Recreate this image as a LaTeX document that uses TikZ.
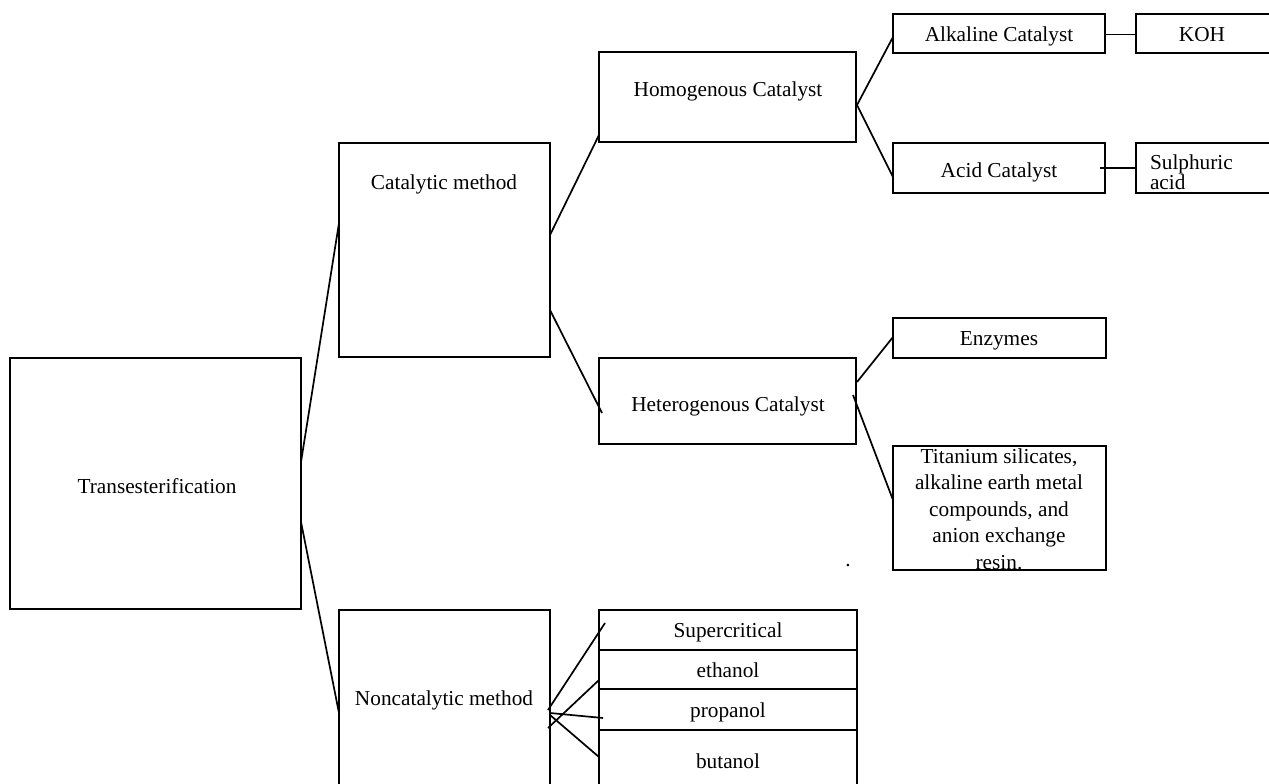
\documentclass[tikz,border=0pt]{standalone}
\usepackage{fontspec}
\setmainfont{Liberation Serif}
\begin{document}
\begin{tikzpicture}[x=1pt,y=-1pt,
  box/.style={draw=black, line width=1.8pt, inner sep=0pt, outer sep=0pt, anchor=north west},
  lbl/.style={inner sep=0pt, outer sep=0pt, anchor=base, font=\fontsize{21.3}{26}\selectfont},
  conn/.style={draw=black, line width=1.7pt}]
\useasboundingbox (0,0) rectangle (1269,784);
% boxes
\node[box, minimum width=291, minimum height=251] (trans) at (10,358) {};
\node[box, minimum width=211, minimum height=214] (cat) at (339,143) {};
\node[box, minimum width=211, minimum height=180] (noncat) at (339,610) {};
\node[box, minimum width=257, minimum height=90] (homo) at (599,52) {};
\node[box, minimum width=257, minimum height=86] (hetero) at (599,358) {};
\node[box, minimum width=212, minimum height=39] (alk) at (893,14) {};
\node[box, minimum width=136, minimum height=39] (koh) at (1136,14) {};
\node[box, minimum width=212, minimum height=50] (acid) at (893,143) {};
\node[box, minimum width=136, minimum height=50] (sulph) at (1136,143) {};
\node[box, minimum width=213, minimum height=40] (enz) at (893,318) {};
\node[box, minimum width=213, minimum height=124] (tit) at (893,446) {};
\node[box, minimum width=258, minimum height=40] (super) at (599,610) {};
\node[box, minimum width=258, minimum height=39] (eth) at (599,650) {};
\node[box, minimum width=258, minimum height=41] (prop) at (599,689) {};
\node[box, minimum width=258, minimum height=60] (but) at (599,730) {};
% texts
\node[lbl] (transT) at (157,493) {Transesterification};
\node[lbl] (catT) at (444,189) {Catalytic method};
\node[lbl] (noncatT) at (444,705) {Noncatalytic method};
\node[lbl] (homoT) at (728,96) {Homogenous Catalyst};
\node[lbl] (heteroT) at (728,411) {Heterogenous Catalyst};
\node[lbl] (alkT) at (999,42) {Alkaline Catalyst};
\node[lbl] (kohT) at (1202,42) {KOH};
\node[lbl] (acidT) at (999,177) {Acid Catalyst};
\node[lbl, anchor=west, align=left, font=\fontsize{21.3}{18}\selectfont] (sulphT) at (1150,172) {Sulphuric\\acid};
\node[lbl] (enzT) at (999,345) {Enzymes};
\node[lbl, anchor=center, align=center, font=\fontsize{21.3}{26.5}\selectfont] (titT) at (999,509) {Titanium silicates,\\alkaline earth metal\\compounds, and\\anion exchange\\resin.};
\node[lbl] (superT) at (728,637) {Supercritical};
\node[lbl] (ethT) at (728,677) {ethanol};
\node[lbl] (propT) at (728,717) {propanol};
\node[lbl] (butT) at (728,768) {butanol};
\node[lbl] (dot) at (848,566) {.};
% connectors
\draw[conn] ([yshift=21.5pt]trans.east) -- ([yshift=27pt]cat.west);
\draw[conn] ([yshift=-38.5pt]trans.east) -- ([yshift=-13pt]noncat.west);
\draw[conn] ([yshift=15pt]cat.east) -- ([yshift=-38pt]homo.west);
\draw[conn] ([yshift=-60pt]cat.east) -- ([xshift=3pt,yshift=-12pt]hetero.west);
\draw[conn] ([xshift=1pt,yshift=-8pt]homo.east) -- ([yshift=-3.5pt]alk.west);
\draw[conn] ([xshift=1pt,yshift=-8pt]homo.east) -- ([yshift=-9pt]acid.west);
\draw[conn] ([yshift=-1pt]alk.east) -- ([yshift=-1pt]koh.west);
\draw[conn] ([xshift=-5pt]acid.east) -- (sulph.west);
\draw[conn] ([xshift=1pt,yshift=19pt]hetero.east) -- ([yshift=1pt]enz.west);
\draw[conn] ([xshift=-3pt,yshift=6pt]hetero.east) -- ([yshift=8pt]tit.west);
\draw[conn] ([xshift=-2pt,yshift=-10pt]noncat.east) -- ([xshift=6pt,yshift=7pt]super.west);
\draw[conn] ([xshift=-2pt,yshift=-28pt]noncat.east) -- ([yshift=-10.5pt]eth.west);
\draw[conn] ([yshift=-13pt]noncat.east) -- ([xshift=4pt,yshift=-8.5pt]prop.west);
\draw[conn] ([yshift=-15pt]noncat.east) -- ([yshift=3pt]but.west);
\end{tikzpicture}
\end{document}
